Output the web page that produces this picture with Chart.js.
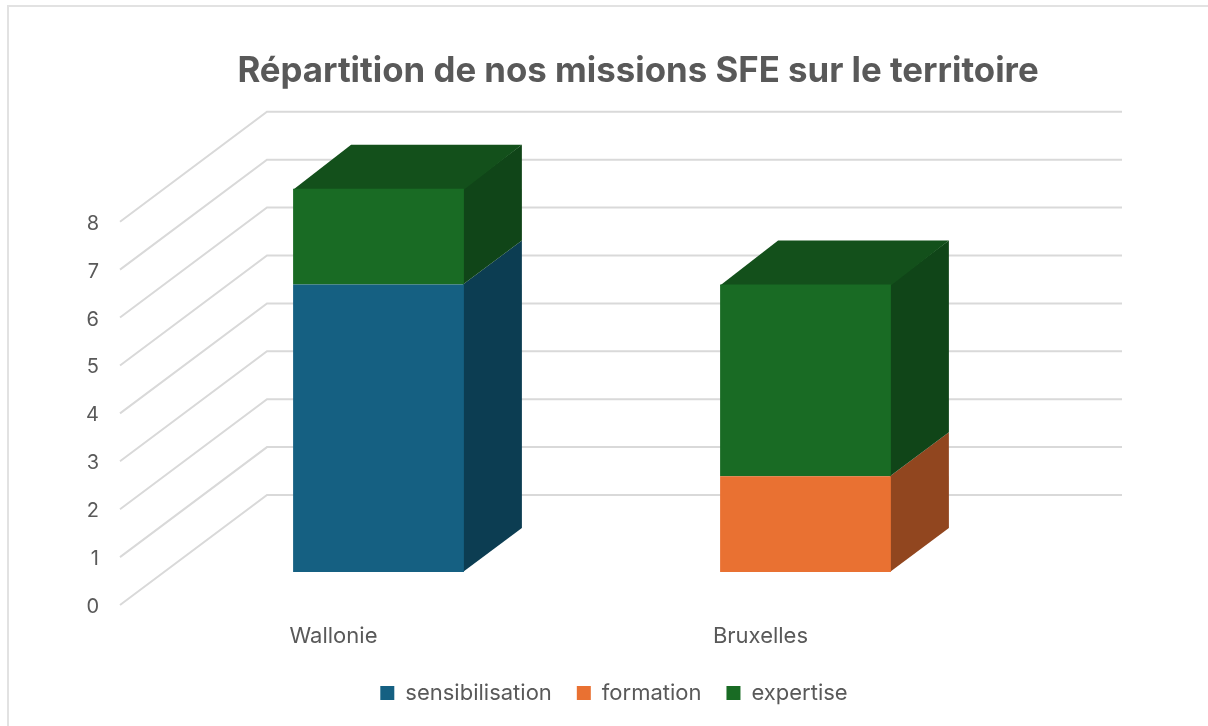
<!DOCTYPE html>
<html>
<head>
<meta charset="utf-8">
<title>Répartition de nos missions SFE sur le territoire</title>
<script src="https://cdn.jsdelivr.net/npm/chart.js@4"></script>
<style>
    html, body { margin: 0; padding: 0; background: #fff; overflow: hidden; }
    #frame { position: absolute; left: 7px; top: 5px; width: 1400px; height: 900px; border: 2px solid #e2e2e2; }
    canvas { position: absolute; left: 0; top: 0; }
</style>
</head>
<body>
<div id="frame"></div>
<canvas id="missionsChart" width="1208" height="726"></canvas>
<script>
const categories = ['Wallonie', 'Bruxelles'];
const sensibilisation = [6, 0];
const formation = [0, 2];
const expertise = [2, 4];
const yTicks = [0, 1, 2, 3, 4, 5, 6, 7, 8];

const textColor = '#595959';
const gridColor = '#d9d9d9';
const fontName = 'Inter, sans-serif';

// front, side and top shades of each series
const blue = { front: '#156082', side: '#0c3d52', top: '#0e4560' };
const orange = { front: '#e97132', side: '#91461f', top: '#a8522a' };
const green = { front: '#196b24', side: '#104518', top: '#13501b' };

// fake 3D: how far the walls and the bars sit behind the axis plane
const wallDepth = { x: 147, y: -110 };
const barShift = { x: 45, y: -33 };
const barDepth = { x: 58, y: -44 };
const gridEnd = 1122;

function face(ctx, color, points) {
    ctx.fillStyle = color;
    ctx.beginPath();
    points.forEach((p, i) => i ? ctx.lineTo(p[0], p[1]) : ctx.moveTo(p[0], p[1]));
    ctx.closePath();
    ctx.fill();
}

const fake3d = {
    id: 'fake3d',
    afterLayout(chart) {
        // title is centred on the original (wider) chart, not on this crop
        chart.titleBlock.left += 48;
    },
    beforeDatasetsDraw(chart) {
        const ctx = chart.ctx;
        const yScale = chart.scales.y;
        const left = chart.chartArea.left;

        ctx.save();
        ctx.strokeStyle = gridColor;
        ctx.lineWidth = 2;
        yScale.ticks.forEach((tick) => {
            const y = yScale.getPixelForValue(tick.value);
            ctx.beginPath();
            ctx.moveTo(left, y);
            ctx.lineTo(left + wallDepth.x, y + wallDepth.y);
            ctx.lineTo(gridEnd, y + wallDepth.y);
            ctx.stroke();
        });

        ctx.translate(barShift.x, barShift.y);
        chart.data.datasets.forEach((dataset, d) => {
            chart.getDatasetMeta(d).data.forEach((bar, i) => {
                if (!dataset.data[i]) return;
                const right = bar.x + bar.width / 2;
                const barLeft = bar.x - bar.width / 2;
                const dx = barDepth.x, dy = barDepth.y;
                // 1px overlap under the front face so no light seam shows
                face(ctx, dataset.shades.side, [
                    [right - 1, bar.y], [right + dx, bar.y + dy],
                    [right + dx, bar.base + dy], [right - 1, bar.base]
                ]);
                const above = chart.data.datasets.slice(d + 1).some((other) => other.data[i]);
                if (!above) {
                    face(ctx, dataset.shades.top, [
                        [barLeft, bar.y + 1], [barLeft + dx, bar.y + dy],
                        [right + dx, bar.y + dy], [right, bar.y + 1]
                    ]);
                }
            });
        });
        // leave the translation on so the library draws the front faces shifted
    },
    afterDatasetsDraw(chart) {
        chart.ctx.restore();
    }
};

function series(label, data, shades) {
    return {
        label: label,
        data: data,
        shades: shades,
        backgroundColor: shades.front,
        borderWidth: 0,
        barPercentage: 0.4,
        categoryPercentage: 1,
        clip: false
    };
}

new Chart(document.getElementById('missionsChart'), {
    type: 'bar',
    plugins: [fake3d],
    data: {
        labels: categories,
        datasets: [
            series('sensibilisation', sensibilisation, blue),
            series('formation', formation, orange),
            series('expertise', expertise, green)
        ]
    },
    options: {
        responsive: false,
        animation: false,
        devicePixelRatio: 1,
        layout: { padding: { left: 20, bottom: 12 } },
        scales: {
            x: {
                stacked: true,
                grid: { display: false, drawTicks: false },
                border: { display: false },
                ticks: { color: textColor, padding: 18, font: { family: fontName, size: 22 } },
                afterFit: (scale) => { scale.height = 52; }
            },
            y: {
                stacked: true,
                min: 0,
                max: 8,
                grid: { display: false, drawTicks: false },
                border: { display: false },
                afterBuildTicks: (scale) => { scale.ticks = yTicks.map((v) => ({ value: v })); },
                ticks: { color: textColor, padding: 21, labelOffset: 2, font: { family: fontName, size: 20 } },
                afterFit: (scale) => { scale.width = 100; }
            },
            // empty axis that only keeps the room the walls run into on the right
            spacer: {
                type: 'linear',
                position: 'right',
                grid: { display: false, drawTicks: false },
                border: { display: false },
                ticks: { display: false },
                afterFit: (scale) => { scale.width = 234; }
            }
        },
        plugins: {
            title: {
                display: true,
                text: 'Répartition de nos missions SFE sur le territoire',
                color: textColor,
                font: { family: fontName, size: 34.8, weight: 'bold', lineHeight: 1.2 },
                padding: { top: 51, bottom: 129 }
            },
            legend: {
                position: 'bottom',
                labels: {
                    color: textColor,
                    boxWidth: 14,
                    boxHeight: 14,
                    padding: 25,
                    font: { family: fontName, size: 22 }
                }
            },
            tooltip: { enabled: false }
        }
    }
});
</script>
</body>
</html>
